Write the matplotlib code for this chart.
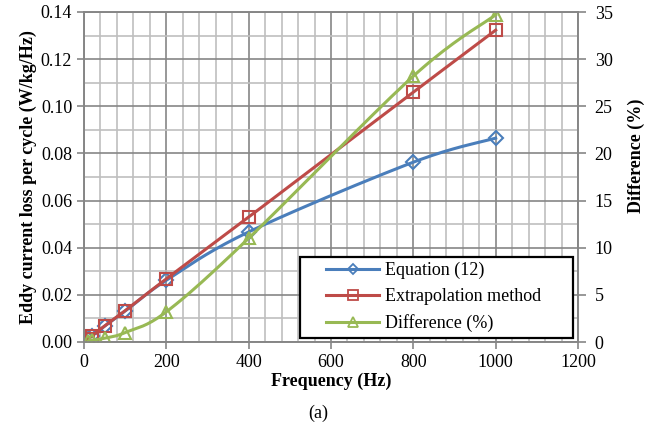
import numpy as np
import matplotlib
matplotlib.use('Agg')
import matplotlib.pyplot as plt
from matplotlib.ticker import MultipleLocator, FormatStrFormatter
from matplotlib.patches import Rectangle

plt.rcParams['font.family'] = 'serif'
plt.rcParams['font.serif'] = ['Liberation Serif', 'DejaVu Serif']

# data
freq = [10, 20, 50, 100, 200, 400, 800, 1000]
equation = [0.0013, 0.0027, 0.0067, 0.0131, 0.0262, 0.0467, 0.0763, 0.0865]
extrap = [0.0013, 0.0027, 0.0068, 0.0133, 0.0268, 0.0530, 0.1060, 0.1323]
diff_pct = [0.1, 0.2, 0.4, 1.0, 3.2, 11.0, 28.2, 34.7]

BLUE = '#4A7EBB'
RED = '#BE4B48'
GREEN = '#98B954'
FS = 13


def smooth(x, y, n=20):
    # Catmull-Rom style smoothing like Excel's "smoothed line"
    x = np.asarray(x, float)
    y = np.asarray(y, float)
    xs, ys = [], []
    for i in range(len(x) - 1):
        x0, y0 = (x[i - 1], y[i - 1]) if i > 0 else (x[i], y[i])
        x3, y3 = (x[i + 2], y[i + 2]) if i + 2 < len(x) else (x[i + 1], y[i + 1])
        x1, y1, x2, y2 = x[i], y[i], x[i + 1], y[i + 1]
        c1x, c1y = x1 + (x2 - x0) / 6, y1 + (y2 - y0) / 6
        c2x, c2y = x2 - (x3 - x1) / 6, y2 - (y3 - y1) / 6
        t = np.linspace(0, 1, n)
        bx = (1-t)**3*x1 + 3*(1-t)**2*t*c1x + 3*(1-t)*t**2*c2x + t**3*x2
        by = (1-t)**3*y1 + 3*(1-t)**2*t*c1y + 3*(1-t)*t**2*c2y + t**3*y2
        xs.extend(bx)
        ys.extend(by)
    return xs, ys


fig = plt.figure(figsize=(6.52, 4.28), dpi=100)
ax1 = fig.add_axes([84/652, 1 - 342/428, 494/652, 330/428])
ax2 = ax1.twinx()

ax1.set_xlim(0, 1200)
ax1.set_ylim(0, 0.14)
ax2.set_ylim(0, 35)

ax1.xaxis.set_major_locator(MultipleLocator(200))
ax1.xaxis.set_minor_locator(MultipleLocator(40))
ax1.yaxis.set_major_locator(MultipleLocator(0.02))
ax1.yaxis.set_minor_locator(MultipleLocator(0.01))
ax2.yaxis.set_major_locator(MultipleLocator(5))

ax1.grid(True, which='major', color='#868686', lw=1.2)
ax1.grid(True, which='minor', color='#BFBFBF', lw=1.2)
ax1.set_axisbelow(True)
ax1.tick_params(which='minor', length=0)
ax1.tick_params(which='major', length=5, width=1.2, color='#868686', labelsize=FS)
ax2.tick_params(which='major', length=6, width=1.2, color='#868686', labelsize=FS, pad=6)
for a in (ax1, ax2):
    for s in a.spines.values():
        s.set_color('#868686')
        s.set_linewidth(1.2)

ax1.yaxis.set_major_formatter(FormatStrFormatter('%.2f'))

mk = dict(ms=9, mew=1.5, mfc='none')
xs, ys = smooth(freq, equation)
ax1.plot(xs, ys, color=BLUE, lw=2.2)
ax1.plot(freq, equation, ls='none', marker='D', mec=BLUE, **dict(mk, ms=7.5))
xs, ys = smooth(freq, extrap)
ax1.plot(xs, ys, color=RED, lw=2.2)
ax1.plot(freq, extrap, ls='none', marker='s', mec=RED, **mk)
xs, ys = smooth(freq, diff_pct)
ax2.plot(xs, ys, color=GREEN, lw=2.2)
ax2.plot(freq, diff_pct, ls='none', marker='^', mec=GREEN, **mk)

# legend: frame drawn separately so the handles can sit inset
frame = Rectangle((300/652, 1 - 338/428), 273/652, 81/428, transform=fig.transFigure,
                  facecolor='white', edgecolor='black', lw=1.6, zorder=4, clip_on=False)
ax2.add_patch(frame)
lk = dict(ms=6.5, mew=1.3, mfc='none')
h1, = ax1.plot([], [], color=BLUE, lw=2.2, marker='D', mec=BLUE, **dict(lk, ms=5.5))
h2, = ax1.plot([], [], color=RED, lw=2.2, marker='s', mec=RED, **lk)
h3, = ax1.plot([], [], color=GREEN, lw=2.2, marker='^', mec=GREEN, **lk)
leg = ax2.legend([h1, h2, h3], ['Equation (12)', 'Extrapolation method', 'Difference (%)'],
                 loc='center left', bbox_to_anchor=(326/652, 1 - 297/428),
                 bbox_transform=fig.transFigure, fontsize=FS, frameon=False,
                 handlelength=2.95, handletextpad=0.3, borderaxespad=0,
                 borderpad=0, labelspacing=0.5)
leg.set_zorder(5)

ax1.set_xlabel('Frequency (Hz)', fontsize=FS, fontweight='bold', labelpad=1)
ax1.set_ylabel('Eddy current loss per cycle (W/kg/Hz)', fontsize=FS, fontweight='bold', labelpad=3)
ax2.set_ylabel('Difference (%)', fontsize=FS, fontweight='bold', labelpad=3)
ax2.yaxis.set_label_coords(1.0 + 50/494, (342 - 156) / 330)
fig.text(318/652, 1 - 413/428, '(a)', ha='center', va='center', fontsize=FS)

fig.savefig('out.png', dpi=100)
